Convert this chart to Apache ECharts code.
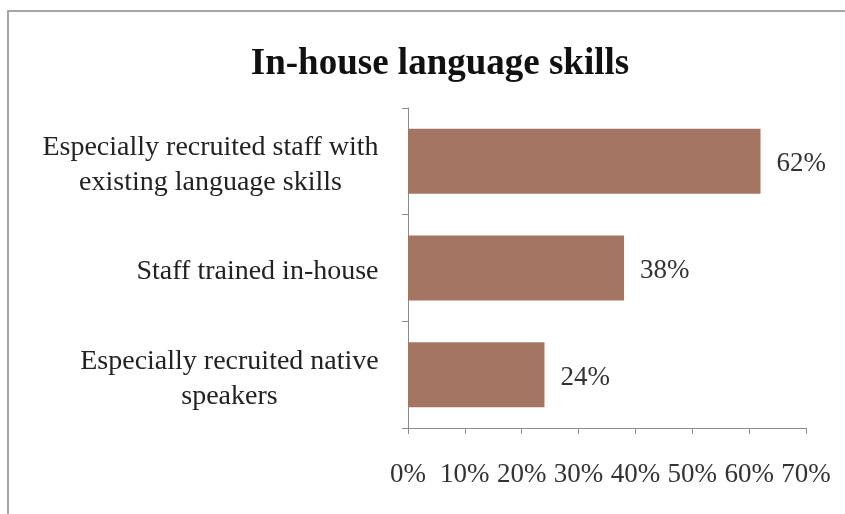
<!DOCTYPE html>
<html>
<head>
<meta charset="utf-8">
<script src="https://cdn.jsdelivr.net/npm/echarts@6/dist/echarts.min.js"></script>
<style>
  html, body { margin: 0; padding: 0; background: #fff; }
  #chart { width: 845px; height: 514px; }
</style>
</head>
<body>
<div id="chart"></div>
<script>
// Ways companies obtain language skills, share of respondents (%)
const categories = [
  'Especially recruited staff with\nexisting language skills',
  'Staff trained in-house',
  'Especially recruited native\nspeakers'
];
const values = [62, 38, 24];
const axisMax = 70;
const axisStep = 10;

const serif = '"Liberation Serif", "DejaVu Serif", serif';
const labelSize = 28;

// Multi-line category labels: lines are centred within the block,
// and the block itself sits right-aligned against the axis.
const measureCtx = document.createElement('canvas').getContext('2d');
measureCtx.font = labelSize + 'px ' + serif;
const rich = {};
categories.forEach((c, i) => {
  const w = Math.max(...c.split('\n').map(s => measureCtx.measureText(s).width));
  rich['c' + i] = { width: Math.ceil(w) + 2, align: 'center', fontFamily: serif,
                    fontSize: labelSize, lineHeight: 35, color: '#222' };
});

const chart = echarts.init(document.getElementById('chart'), null, { renderer: 'canvas' });
chart.setOption({
  backgroundColor: '#ffffff',
  animation: false,
  graphic: [{
    type: 'rect',
    shape: { x: 8, y: 11, width: 860, height: 520 },
    style: { fill: 'none', stroke: '#a6a6a6', lineWidth: 2 },
    silent: true
  }],
  title: {
    text: 'In-house language skills',
    left: 435,
    textAlign: 'center',
    top: 41,
    textStyle: { fontFamily: serif, fontWeight: 'bold', fontSize: 37, color: '#111' }
  },
  grid: { left: 408, right: 39, top: 108, bottom: 86 },
  xAxis: {
    type: 'value',
    min: 0,
    max: axisMax,
    interval: axisStep,
    axisLine: { show: true, lineStyle: { color: '#8c8c8c', width: 1 } },
    axisTick: { show: true, length: 6, lineStyle: { color: '#8c8c8c' } },
    splitLine: { show: false },
    axisLabel: {
      formatter: '{value}%',
      margin: 33,
      fontFamily: serif,
      fontSize: 27,
      color: '#333'
    }
  },
  yAxis: {
    type: 'category',
    inverse: true,
    data: categories,
    axisLine: { show: true, lineStyle: { color: '#8c8c8c', width: 1 } },
    axisTick: { show: true, length: 6, lineStyle: { color: '#8c8c8c' } },
    axisLabel: {
      margin: 28,
      fontFamily: serif,
      fontSize: labelSize,
      lineHeight: 35,
      color: '#222',
      padding: [8, 0, 0, 0],
      formatter: (value, index) => value.split('\n').map(s => '{c' + index + '|' + s + '}').join('\n'),
      rich: rich
    }
  },
  series: [{
    type: 'bar',
    data: values,
    barCategoryGap: '39%',
    itemStyle: { color: '#a47563' },
    label: {
      show: true,
      position: 'right',
      distance: 16,
      offset: [0, 3],
      formatter: '{c}%',
      fontFamily: serif,
      fontSize: 27,
      color: '#333'
    }
  }]
});
</script>
</body>
</html>
